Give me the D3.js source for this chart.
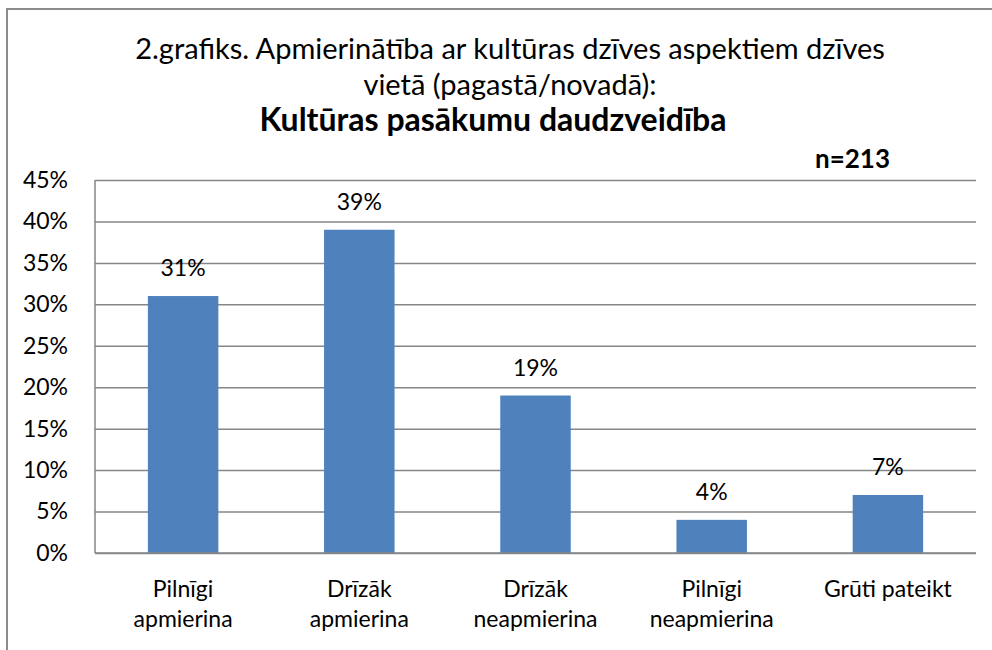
<!DOCTYPE html>
<html lang="lv">
<head>
<meta charset="utf-8">
<title>2.grafiks</title>
<script src="https://d3js.org/d3.v7.min.js"></script>
<style>
* { margin: 0; padding: 0; }
body { background: #fff; font-family: 'Lato', sans-serif; }
</style>
</head>
<body>
<script>
// data
let categories = [["Pilnīgi", "apmierina"], ["Drīzāk", "apmierina"], ["Drīzāk", "neapmierina"], ["Pilnīgi", "neapmierina"], ["Grūti pateikt"]];
let values = [31, 39, 19, 4, 7];
let yTicks = [0, 5, 10, 15, 20, 25, 30, 35, 40, 45];
let titleLines = ["2.grafiks. Apmierinātība ar kultūras dzīves aspektiem dzīves", "vietā (pagastā/novadā):"];
let subTitle = "Kultūras pasākumu daudzveidība";
let nLabel = "n=213";

let w = 992, h = 650;
let plotLeft = 95, plotRight = 976, plotTop = 180, plotBottom = 553;

let svg = d3.select("body").append("svg")
    .attr("width", w)
    .attr("height", h);

// chart frame
svg.append("rect")
    .attr("x", 7).attr("y", 9)
    .attr("width", w + 20).attr("height", h + 20)
    .attr("fill", "#fff")
    .attr("stroke", "#8c8c8c")
    .attr("stroke-width", 2);

let x = d3.scaleBand()
    .domain(d3.range(values.length))
    .range([plotLeft, plotRight])
    .paddingInner(0.6)
    .paddingOuter(0.3);

let y = d3.scaleLinear()
    .domain([0, 45])
    .range([plotBottom, plotTop]);

// gridlines + y labels
svg.append("g")
    .attr("transform", "translate(" + plotLeft + ",0)")
    .call(d3.axisLeft(y)
      .tickValues(yTicks)
      .tickSize(-(plotRight - plotLeft))
      .tickPadding(27)
      .tickFormat(d => d + "%"))
    .call(g => g.select(".domain").remove())
    .call(g => g.selectAll(".tick line").attr("stroke", "#868686").attr("stroke-width", 1.5))
    .call(g => g.selectAll(".tick text")
      .attr("font-family", "Lato, sans-serif")
      .attr("font-size", 23)
      .attr("fill", "#000"));

// left axis line
svg.append("line")
    .attr("x1", plotLeft).attr("x2", plotLeft)
    .attr("y1", plotTop).attr("y2", plotBottom)
    .attr("stroke", "#868686").attr("stroke-width", 1.5);

svg.append("g")
  .selectAll("rect")
  .data(values)
  .enter()
  .append("rect")
    .attr("x", (d, i) => x(i))
    .attr("y", d => y(d))
    .attr("width", x.bandwidth())
    .attr("height", d => y(0) - y(d))
    .attr("fill", "#4F81BD");

// bottom baseline redrawn on top of bars
svg.append("line")
    .attr("x1", plotLeft).attr("x2", plotRight)
    .attr("y1", plotBottom).attr("y2", plotBottom)
    .attr("stroke", "#868686").attr("stroke-width", 1.5);

svg.append("g")
  .selectAll("text")
  .data(values)
  .enter()
  .append("text")
    .text(d => d + "%")
    .attr("x", (d, i) => x(i) + x.bandwidth() / 2)
    .attr("y", d => y(d) - 20)
    .attr("text-anchor", "middle")
    .attr("font-size", 23)
    .attr("fill", "#000");

let catText = svg.append("g")
  .selectAll("text")
  .data(categories)
  .enter()
  .append("text")
    .attr("x", (d, i) => x(i) + x.bandwidth() / 2)
    .attr("y", 597)
    .attr("text-anchor", "middle")
    .attr("font-size", 23)
    .attr("fill", "#000");

catText.selectAll("tspan")
  .data(d => d)
  .enter()
  .append("tspan")
    .attr("x", function() { return d3.select(this.parentNode).attr("x"); })
    .attr("dy", (d, i) => i == 0 ? 0 : 30)
    .text(d => d);

// titles
svg.selectAll(".title")
  .data(titleLines)
  .enter()
  .append("text")
    .attr("class", "title")
    .text(d => d)
    .attr("x", 510)
    .attr("y", (d, i) => 59 + i * 36)
    .attr("text-anchor", "middle")
    .attr("font-size", 29)
    .attr("fill", "#000");

svg.append("text")
    .text(subTitle)
    .attr("x", 493)
    .attr("y", 131)
    .attr("text-anchor", "middle")
    .attr("font-size", 32)
    .attr("font-weight", "bold")
    .attr("fill", "#000");

svg.append("text")
    .text(nLabel)
    .attr("x", 890)
    .attr("y", 168)
    .attr("text-anchor", "end")
    .attr("font-size", 26)
    .attr("font-weight", "bold")
    .attr("fill", "#000");
</script>
</body>
</html>
